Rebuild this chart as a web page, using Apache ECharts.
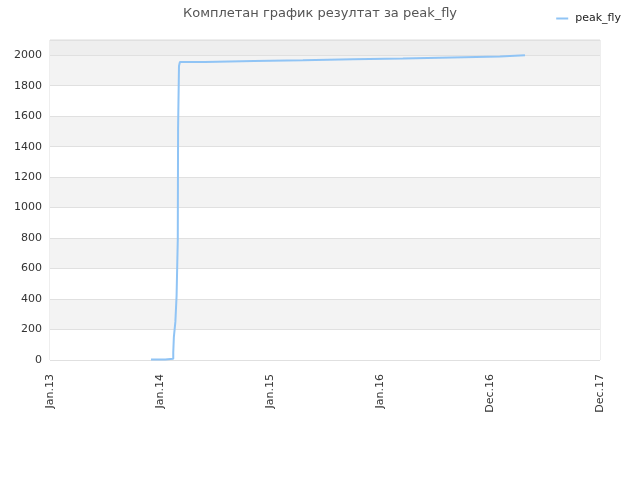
<!DOCTYPE html>
<html>
<head>
<meta charset="utf-8">
<script src="https://cdn.jsdelivr.net/npm/echarts@6/dist/echarts.min.js"></script>
<style>
  html, body { margin: 0; padding: 0; background: #fff; }
  #chart { width: 640px; height: 480px; }
</style>
</head>
<body>
<div id="chart"></div>
<script>
// x positions in days from Jan.13, one tick every 365 days
var tickLabels = ['Jan.13', 'Jan.14', 'Jan.15', 'Jan.16', 'Dec.16', 'Dec.17'];
var days = [335, 382, 409, 411, 416, 420, 424, 425, 428, 431, 514, 677, 839, 1005, 1171, 1334, 1493, 1576];
var scores = [3, 8, 50, 150, 250, 420, 790, 1520, 1930, 1955, 1962, 1967, 1974, 1978, 1985, 1991, 2000, 2000];

var points = [];
for (var i = 0; i < days.length; i++) {
    points.push([days[i], scores[i]]);
}

var bandColors = ['#ffffff', '#f3f3f3', '#ffffff', '#f3f3f3', '#ffffff', '#f3f3f3',
                  '#ffffff', '#f3f3f3', '#ffffff', '#f3f3f3', '#eeeeee'];

var myChart = echarts.init(document.getElementById('chart'));
myChart.setOption({
    backgroundColor: '#fff',
    animation: false,
    title: {
        text: 'Комплетан график резултат за peak_fly',
        left: 'center',
        top: 2,
        textStyle: { color: '#555', fontSize: 13, fontWeight: 'normal', fontFamily: 'DejaVu Sans' }
    },
    legend: {
        right: 14,
        top: 8,
        itemWidth: 12,
        itemHeight: 2,
        textStyle: { color: '#222', fontSize: 11, fontFamily: 'DejaVu Sans', padding: [0, 0, 0, 2] },
        data: [{ name: 'peak_fly', icon: 'rect' }]
    },
    grid: { left: 50, right: 40, top: 40, bottom: 120, show: true, borderColor: '#dddddd', borderWidth: 1 },
    xAxis: {
        type: 'value',
        min: 0,
        max: 1825,
        interval: 365,
        axisLine: { show: false },
        axisTick: { show: false },
        splitLine: { show: false },
        axisLabel: {
            rotate: 90,
            color: '#333',
            fontSize: 11,
            fontFamily: 'DejaVu Sans',
            margin: 14,
            formatter: function (v) { return tickLabels[Math.round(v / 365)]; }
        }
    },
    yAxis: {
        type: 'value',
        min: 0,
        max: 2100,
        interval: 200,
        axisLine: { show: false },
        axisTick: { show: false },
        axisLabel: { color: '#333', fontSize: 11, fontFamily: 'DejaVu Sans', margin: 8,
            formatter: function (v) { return v % 200 === 0 ? v : ''; } },
        splitLine: { show: true, lineStyle: { color: '#e0e0e0' } },
        splitArea: { show: true, areaStyle: { color: bandColors } }
    },
    series: [{
        name: 'peak_fly',
        type: 'line',
        step: 'end',
        showSymbol: false,
        data: points,
        lineStyle: { color: '#90c4f5', width: 2 },
        itemStyle: { color: '#90c4f5' }
    }]
});
</script>
</body>
</html>
